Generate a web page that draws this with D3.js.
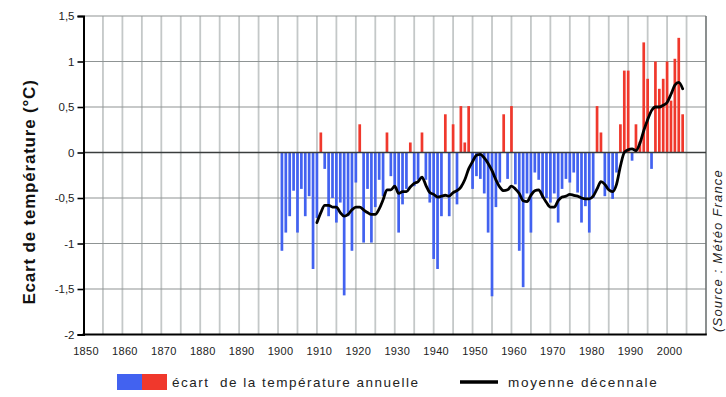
<!DOCTYPE html>
<html>
<head>
<meta charset="utf-8">
<script src="https://cdn.jsdelivr.net/npm/d3@7"></script>
<style>
  html, body { margin: 0; padding: 0; background: #fff; }
  svg { display: block; }
  text { font-family: "Liberation Sans", Arial, sans-serif; }
</style>
</head>
<body>
<svg id="chart" width="726" height="397"></svg>
<script>
// Annual temperature anomalies in France (°C), 1901–2004
const years = d3.range(1901, 2005);
const anomalies = [
  -1.08, -0.88, -0.70, -0.42, -0.88, -0.40, -0.70, -0.48, -1.28, -0.72, // 1901-1910
   0.22, -0.18, -0.70, -0.50, -0.77, -0.55, -1.57, -0.70, -1.08, -0.33, // 1911-1920
   0.31, -0.99, -0.40, -0.99, -0.60, -0.30, -0.48,  0.22, -0.26, -0.37, // 1921-1930
  -0.88, -0.57, -0.40,  0.11, -0.37, -0.30,  0.22, -0.30, -0.55, -1.17, // 1931-1940
  -1.28, -0.70,  0.42, -0.70,  0.31, -0.57,  0.51,  0.11,  0.51, -0.40, // 1941-1950
  -0.26, -0.29, -0.45, -0.88, -1.58, -0.60, -0.33,  0.42, -0.29,  0.51, // 1951-1960
  -0.35, -1.08, -1.48, -0.45, -0.88, -0.22, -0.30, -0.50, -0.50, -0.55, // 1961-1970
  -0.45, -0.77, -0.40, -0.29, -0.33, -0.22, -0.44, -0.77, -0.59, -0.88, // 1971-1980
  -0.50,  0.51,  0.22, -0.48, -0.40, -0.51, -0.22,  0.31,  0.90,  0.90, // 1981-1990
  -0.09,  0.31,  0.12,  1.21,  0.81, -0.18,  1.00,  0.70,  0.81,  1.00, // 1991-2000
   0.57,  1.03,  1.26,  0.42                                            // 2001-2004
];

// Ten-year running mean (°C), 1910–2004
const meanYears = d3.range(1910, 2005);
const decadalMean = [
  -0.77, -0.66, -0.58, -0.58, -0.60, -0.60, -0.66, -0.70, -0.68, -0.63, // 1910-1919
  -0.60, -0.60, -0.63, -0.66, -0.68, -0.68, -0.62, -0.52, -0.41, -0.41, // 1920-1929
  -0.37, -0.45, -0.43, -0.43, -0.38, -0.34, -0.32, -0.27, -0.36, -0.44, // 1930-1939
  -0.46, -0.49, -0.48, -0.47, -0.48, -0.44, -0.42, -0.38, -0.30, -0.18, // 1940-1949
  -0.10, -0.03, -0.02, -0.06, -0.12, -0.20, -0.30, -0.38, -0.42, -0.41, // 1950-1959
  -0.37, -0.40, -0.45, -0.53, -0.54, -0.47, -0.42, -0.41, -0.48, -0.55, // 1960-1969
  -0.60, -0.60, -0.53, -0.49, -0.48, -0.46, -0.47, -0.48, -0.50, -0.51, // 1970-1979
  -0.51, -0.48, -0.40, -0.32, -0.35, -0.41, -0.43, -0.35, -0.15,  0.00, // 1980-1989
   0.03,  0.04,  0.02,  0.10,  0.24,  0.36,  0.46,  0.50,  0.50,  0.52, // 1990-1999
   0.55,  0.64,  0.74,  0.77,  0.70                                     // 2000-2004
];

const xTickYears = d3.range(1850, 2001, 10);
const gridYears = d3.range(1855, 2006, 5);
const yTickValues = [-2, -1.5, -1, -0.5, 0, 0.5, 1, 1.5];

const yLabel = "Ecart de température (°C)";
const legendBars = "écart  de la température annuelle";
const legendLine = "moyenne décennale";
const sourceText = "(Source : Météo France";

const colors = { neg: "#4262f0", pos: "#f0382c" };

const svg = d3.select("#chart");
const plot = { left: 83.5, right: 706, top: 16, bottom: 334.5 };

const x = d3.scaleLinear().domain([1850, 2010]).range([plot.left, plot.right]);
const y = d3.scaleLinear().domain([-2, 1.5]).range([plot.bottom, plot.top]);

const frFormat = d3.formatLocale({
  decimal: ",", thousands: " ", grouping: [3], currency: ["", " €"], minus: "-"
}).format("");

// vertical grid
svg.append("g")
  .selectAll("line")
  .data(gridYears)
  .join("line")
  .attr("x1", d => x(d)).attr("x2", d => x(d))
  .attr("y1", plot.top).attr("y2", plot.bottom)
  .attr("stroke", "#c4c8c8")
  .attr("stroke-width", 1.8);

// horizontal grid
svg.append("g")
  .selectAll("line")
  .data(yTickValues.filter(v => v !== 0 && v !== -2))
  .join("line")
  .attr("x1", plot.left).attr("x2", plot.right)
  .attr("y1", d => y(d)).attr("y2", d => y(d))
  .attr("stroke", "#8f9494")
  .attr("stroke-width", 1.1);

// right border
svg.append("line")
  .attr("x1", plot.right).attr("x2", plot.right)
  .attr("y1", plot.top).attr("y2", plot.bottom)
  .attr("stroke", "#6f7474").attr("stroke-width", 1.6);

// anomaly bars
const barW = 2.7;
svg.append("g")
  .selectAll("rect")
  .data(years.map((yr, i) => ({ yr, v: anomalies[i] })))
  .join("rect")
  .attr("x", d => x(d.yr) - barW / 2)
  .attr("width", barW)
  .attr("y", d => Math.min(y(d.v), y(0)))
  .attr("height", d => Math.abs(y(d.v) - y(0)))
  .attr("fill", d => d.v >= 0 ? colors.pos : colors.neg);

// zero line
svg.append("line")
  .attr("x1", plot.left).attr("x2", plot.right)
  .attr("y1", y(0)).attr("y2", y(0))
  .attr("stroke", "#3a3d3d").attr("stroke-width", 1.5);

// decadal mean
const line = d3.line()
  .x((d, i) => x(meanYears[i]))
  .y(d => y(d))
  .curve(d3.curveMonotoneX);
svg.append("path")
  .datum(decadalMean)
  .attr("d", line)
  .attr("fill", "none")
  .attr("stroke", "#000")
  .attr("stroke-width", 2.8)
  .attr("stroke-linejoin", "round")
  .attr("stroke-linecap", "round");

// y axis
const yAxis = d3.axisLeft(y)
  .tickValues(yTickValues)
  .tickSize(6)
  .tickPadding(3)
  .tickFormat(frFormat);
const gy = svg.append("g").attr("transform", `translate(${plot.left},0)`).call(yAxis);
gy.select(".domain").attr("stroke", "#000").attr("stroke-width", 2);
gy.selectAll(".tick line").attr("stroke", "#000").attr("stroke-width", 1.6);
gy.selectAll(".tick text")
  .attr("font-size", 11.5)
  .attr("font-family", "'Liberation Sans Narrow', 'Liberation Sans', sans-serif")
  .attr("fill", "#222");

// bottom axis line
svg.append("line")
  .attr("x1", plot.left - 1).attr("x2", plot.right + 0.8)
  .attr("y1", plot.bottom).attr("y2", plot.bottom)
  .attr("stroke", "#000").attr("stroke-width", 2);

// x tick labels
const xAxis = d3.axisBottom(x)
  .tickValues(xTickYears)
  .tickSize(0)
  .tickPadding(13)
  .tickFormat(d3.format("d"));
const gx = svg.append("g").attr("transform", `translate(2,${plot.bottom})`).call(xAxis);
gx.select(".domain").remove();
gx.selectAll(".tick text")
  .attr("font-size", 11)
  .attr("font-family", "'Liberation Sans Narrow', 'Liberation Sans', sans-serif")
  .attr("letter-spacing", "0.3px")
  .attr("fill", "#222");

// y axis title
svg.append("text")
  .attr("transform", "translate(35,192) rotate(-90)")
  .attr("text-anchor", "middle")
  .attr("font-size", 17)
  .attr("font-weight", "bold")
  .attr("letter-spacing", "0.8px")
  .attr("fill", "#111")
  .text(yLabel);

// legend
const lg = svg.append("g");
lg.append("rect").attr("x", 117).attr("y", 374).attr("width", 25).attr("height", 16).attr("fill", colors.neg);
lg.append("rect").attr("x", 142).attr("y", 374).attr("width", 25).attr("height", 16).attr("fill", colors.pos);
lg.append("text")
  .attr("x", 172).attr("y", 387)
  .attr("font-size", 13.5)
  .attr("letter-spacing", "1.5px")
  .attr("fill", "#222")
  .style("white-space", "pre")
  .text(legendBars);
lg.append("line")
  .attr("x1", 460).attr("x2", 498)
  .attr("y1", 382).attr("y2", 382)
  .attr("stroke", "#000").attr("stroke-width", 3.5);
lg.append("text")
  .attr("x", 508).attr("y", 387)
  .attr("font-size", 13.5)
  .attr("letter-spacing", "1.7px")
  .attr("fill", "#222")
  .text(legendLine);

// source credit
svg.append("text")
  .attr("transform", "translate(722,332) rotate(-90)")
  .attr("font-size", 13)
  .attr("font-style", "italic")
  .attr("letter-spacing", "1.2px")
  .attr("fill", "#222")
  .text(sourceText);
</script>
</body>
</html>
